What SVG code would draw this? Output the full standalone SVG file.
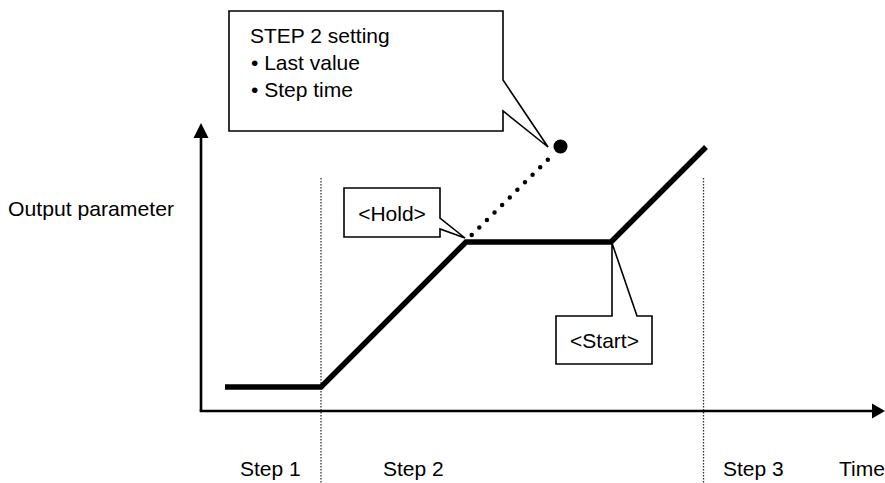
<svg xmlns="http://www.w3.org/2000/svg" width="885" height="483" viewBox="0 0 885 483">
<style>
text{font-family:"Liberation Sans",Arial,sans-serif;font-size:21px;fill:#000}
.callout{fill:#fff;stroke:#000;stroke-width:1.6;stroke-linejoin:miter}
.axis{stroke:#000;stroke-width:2.6;fill:none}
.grid{stroke:#333;stroke-width:1.3;stroke-dasharray:1.5 1.5;fill:none}
.curve{stroke:#000;stroke-width:5.5;fill:none;stroke-linejoin:miter}
.dots{stroke:#000;stroke-width:4.5;stroke-linecap:round;stroke-dasharray:0 10.7;fill:none}
</style>
<g id="connectors">
<line class="grid" x1="321" y1="178" x2="321" y2="483"/>
<line class="grid" x1="703.5" y1="178" x2="703.5" y2="483"/>
<line class="axis" x1="201" y1="411" x2="201" y2="134"/>
<polygon points="201,123 193.5,138 208.5,138" fill="#000"/>
<line class="axis" x1="199.7" y1="411" x2="874" y2="411"/>
<polygon points="885,411 872,403.5 872,418.5" fill="#000"/>
<path class="curve" d="M225,387 H321 L466,242 H611 L706,147"/>
<path class="dots" d="M471.7,235 L548.3,159.3"/>
<circle cx="560.5" cy="146.5" r="7" fill="#000"/>
</g>
<g id="axis-labels">
<text x="8" y="216" textLength="166" lengthAdjust="spacingAndGlyphs">Output parameter</text>
<text x="240" y="476">Step 1</text>
<text x="383" y="476">Step 2</text>
<text x="723" y="476">Step 3</text>
<text x="839" y="476">Time</text>
</g>
<g id="callout-step2">
<path class="callout" d="M229,11 H503 V80 L548,147 L503,111 V131 H229 Z"/>
<text x="250" y="43">STEP 2 setting</text>
<text x="251" y="70">• Last value</text>
<text x="251" y="97">• Step time</text>
</g>
<g id="callout-hold">
<path class="callout" d="M344,188 H440 V218 L465,238 L440,229 V237 H344 Z"/>
<text x="392" y="221" text-anchor="middle">&lt;Hold&gt;</text>
</g>
<g id="callout-start">
<path class="callout" d="M556,316 H612 V243 L637,316 H652 V364 H556 Z"/>
<text x="604.5" y="348" text-anchor="middle">&lt;Start&gt;</text>
</g>
</svg>
